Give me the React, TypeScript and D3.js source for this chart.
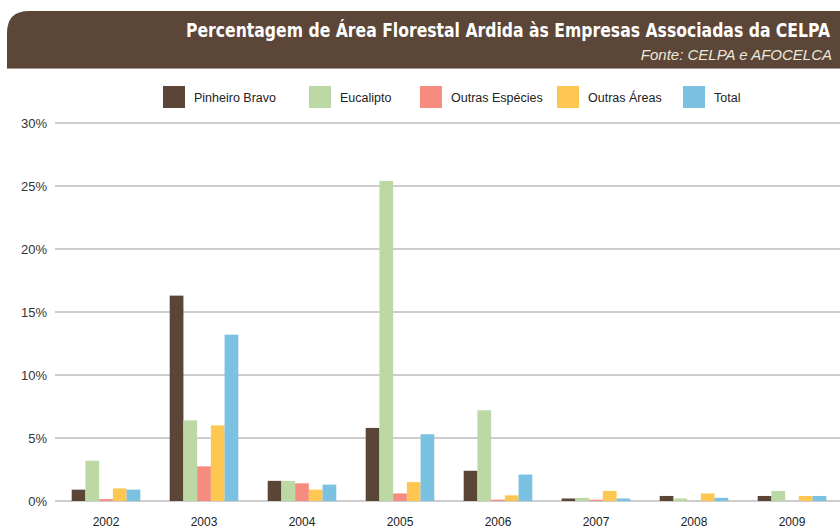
import React from "react";
import * as d3 from "d3";

const years = ["2002", "2003", "2004", "2005", "2006", "2007", "2008", "2009"];
const seriesNames = ["Pinheiro Bravo", "Eucalipto", "Outras Espécies", "Outras Áreas", "Total"];
const seriesColors = ["#5a4537", "#bcd9a5", "#f68b80", "#fec752", "#7ac1e2"];
const pinheiroBravo = [0.9, 16.3, 1.6, 5.8, 2.4, 0.2, 0.4, 0.4];
const eucalipto = [3.2, 6.4, 1.6, 25.4, 7.2, 0.25, 0.2, 0.8];
const outrasEspecies = [0.15, 2.75, 1.4, 0.6, 0.1, 0.1, 0, 0];
const outrasAreas = [1.0, 6.0, 0.9, 1.5, 0.45, 0.8, 0.6, 0.4];
const total = [0.9, 13.2, 1.3, 5.3, 2.1, 0.2, 0.25, 0.4];
const seriesValues = [pinheiroBravo, eucalipto, outrasEspecies, outrasAreas, total];
const yTicks = [0, 5, 10, 15, 20, 25, 30];
const title = "Percentagem de Área Florestal Ardida às Empresas Associadas da CELPA";
const subtitle = "Fonte: CELPA e AFOCELCA";

export default function App() {
  const W = 840, H = 528;
  const x0 = d3.scaleBand<string>().domain(years).range([57, 841]).paddingInner(0.3).paddingOuter(0.15);
  const x1 = d3.scaleBand<number>().domain(d3.range(seriesNames.length)).range([0, x0.bandwidth()]);
  const y = d3.scaleLinear().domain([0, 30]).range([501, 123]);
  const legendX = [163, 309, 420, 557, 683];
  const font = "'Liberation Sans', Arial, sans-serif";
  return (
    <svg width={W} height={H} style={{ position: "absolute", left: 0, top: 0, background: "#fff" }}>
      <path d="M7,68 L7,33 Q7,11 29,11 L840,11 L840,68 Z" fill="#5b4638" />
      <line x1={7} x2={840} y1={68.5} y2={68.5} stroke="#a59a92" strokeWidth={1} />
      <text x={830} y={37} textAnchor="end" fill="#fff" fontFamily="'DejaVu Sans Condensed', 'Open Sans', sans-serif"
        fontWeight="bold" fontSize={20} textLength={644} lengthAdjust="spacingAndGlyphs">{title}</text>
      <text x={832} y={60} textAnchor="end" fill="#ede8dc" fontFamily={font} fontStyle="italic" fontSize={15}>{subtitle}</text>
      {seriesNames.map((n, i) => (
        <g key={n}>
          <rect x={legendX[i]} y={86} width={22} height={22} fill={seriesColors[i]} />
          <text x={legendX[i] + 31} y={102} fontFamily={font} fontSize={12.5} fill="#222">{n}</text>
        </g>
      ))}
      {yTicks.map((t) => (
        <g key={t}>
          <line x1={55} x2={840} y1={y(t)} y2={y(t)} stroke="#bdbdbd" strokeWidth={1.5} />
          <text x={47} y={y(t) + 4.5} textAnchor="end" fontFamily={font} fontSize={13} fill="#333">{t}%</text>
        </g>
      ))}
      {years.map((yr, yi) => (
        <g key={yr} transform={`translate(${x0(yr)},0)`}>
          {seriesValues.map((vals, si) => (
            <rect key={si} x={x1(si)} y={y(vals[yi])} width={x1.bandwidth()} height={y(0) - y(vals[yi])} fill={seriesColors[si]} />
          ))}
          <text x={x0.bandwidth() / 2} y={526} textAnchor="middle" fontFamily={font} fontSize={12} fill="#222">{yr}</text>
        </g>
      ))}
    </svg>
  );
}
